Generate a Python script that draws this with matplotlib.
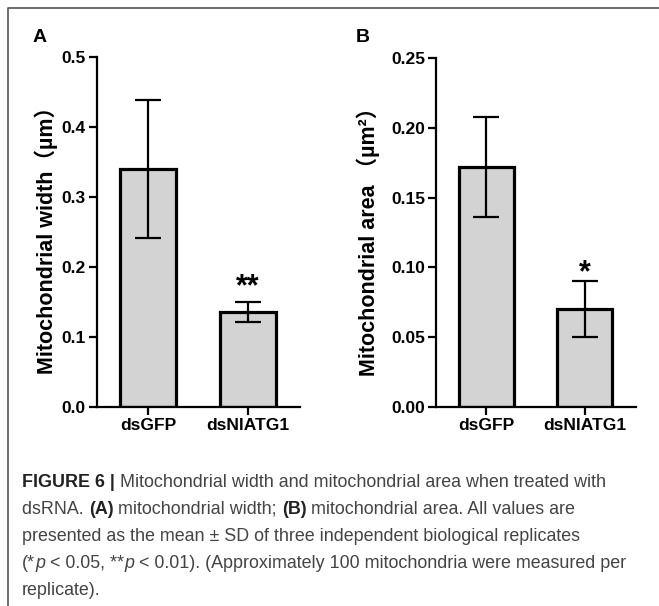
import matplotlib
matplotlib.use("Agg")
import matplotlib.pyplot as plt
from matplotlib.lines import Line2D

# data
groups = ["dsGFP", "dsNlATG1"]
width_mean = [0.340, 0.136]
width_sd = [0.099, 0.014]
area_mean = [0.172, 0.070]
area_sd = [0.036, 0.020]
width_ticks = [0.0, 0.1, 0.2, 0.3, 0.4, 0.5]
area_ticks = [0.00, 0.05, 0.10, 0.15, 0.20, 0.25]
width_stars = "**"
area_stars = "*"

W, H = 659, 606
BOLD = ["Liberation Sans", "Noto Sans CJK SC", "DejaVu Sans"]

fig = plt.figure(figsize=(W / 100, H / 100), dpi=100)


def px(x, y):
    """pixel (from top-left) -> figure fraction"""
    return x / W, 1 - y / H


def bar_panel(rect, means, sds, ticks, fmt, ylabel, stars, star_y, label_x):
    ax = fig.add_axes(rect)
    x = range(len(groups))
    ax.bar(x, means, width=0.56, color="#d3d3d3", edgecolor="black",
           linewidth=2.3, zorder=2)
    ax.errorbar(x, means, yerr=sds, fmt="none", ecolor="black",
                elinewidth=1.6, capsize=9.5, capthick=1.6, zorder=3)
    ax.set_xlim(-0.51, 1.52)
    ax.set_ylim(ticks[0], ticks[-1])
    ax.set_yticks(ticks)
    ax.set_yticklabels([fmt.format(t) for t in ticks])
    ax.set_xticks(list(x))
    ax.set_xticklabels(groups)
    for s in ("top", "right"):
        ax.spines[s].set_visible(False)
    for s in ("left", "bottom"):
        ax.spines[s].set_linewidth(1.6)
    ax.tick_params(axis="both", width=1.6, length=6, pad=2)
    for lab in ax.get_yticklabels() + ax.get_xticklabels():
        lab.set_family(BOLD)
        lab.set_fontweight("bold")
        lab.set_fontsize(12.5)
    ax.set_ylabel(ylabel, family=BOLD, fontweight="bold", fontsize=15.5)
    ax.yaxis.set_label_coords(label_x, 0.49)
    ax.text(1, star_y, stars, ha="center", va="baseline", fontsize=22,
            family=BOLD, fontweight="bold")
    return ax


bar_panel([97 / W, 199 / H, 203 / W, 350 / H], width_mean, width_sd,
          width_ticks, "{:.1f}", "Mitochondrial width（µm）", width_stars,
          0.160, -0.19)
bar_panel([436 / W, 199 / H, 200 / W, 349 / H], area_mean, area_sd,
          area_ticks, "{:.2f}", "Mitochondrial area （µm²）", area_stars,
          0.090, -0.28)

fig.text(*px(40, 37), "A", ha="center", va="center", fontsize=14,
         family=BOLD, fontweight="bold")
fig.text(*px(363, 37), "B", ha="center", va="center", fontsize=14,
         family=BOLD, fontweight="bold")

# frame around the figure
fig.add_artist(Line2D([8 / W, 8 / W, 1], [0, 1 - 8 / H, 1 - 8 / H],
                      transform=fig.transFigure, color="#555555", lw=1.2))

# caption, drawn piece by piece so weights can change mid-line
caption = [
    [("FIGURE 6 | ", "bold"),
     ("Mitochondrial width and mitochondrial area when treated with", "normal")],
    [("dsRNA. ", "normal"), ("(A)", "bold"), (" mitochondrial width; ", "normal"),
     ("(B)", "bold"), (" mitochondrial area. All values are", "normal")],
    [("presented as the mean ± SD of three independent biological replicates", "normal")],
    [("(*", "normal"), ("p", "italic"), (" < 0.05, **", "normal"), ("p", "italic"),
     (" < 0.01). (Approximately 100 mitochondria were measured per", "normal")],
    [("replicate).", "normal")],
]
cap_font = "Liberation Sans"
cap_size = 12.85
renderer = fig.canvas.get_renderer()


def text_width(s, style):
    kw = dict(fontsize=cap_size, family=cap_font)
    if style == "bold":
        kw["fontweight"] = "bold"
    if style == "italic":
        kw["fontstyle"] = "italic"
    t1 = fig.text(0, 0, "|" + s + "|", **kw)
    t2 = fig.text(0, 0, "||", **kw)
    w = t1.get_window_extent(renderer).width - t2.get_window_extent(renderer).width
    t1.remove()
    t2.remove()
    return w, kw


for i, line in enumerate(caption):
    xpos = 22
    ypos = 487 + i * 27
    for s, style in line:
        w, kw = text_width(s, style)
        color = "#222222" if style == "bold" else "#444444"
        fig.text(*px(xpos, ypos), s, va="baseline", ha="left", color=color, **kw)
        xpos += w

fig.savefig("out.png", dpi=100)
